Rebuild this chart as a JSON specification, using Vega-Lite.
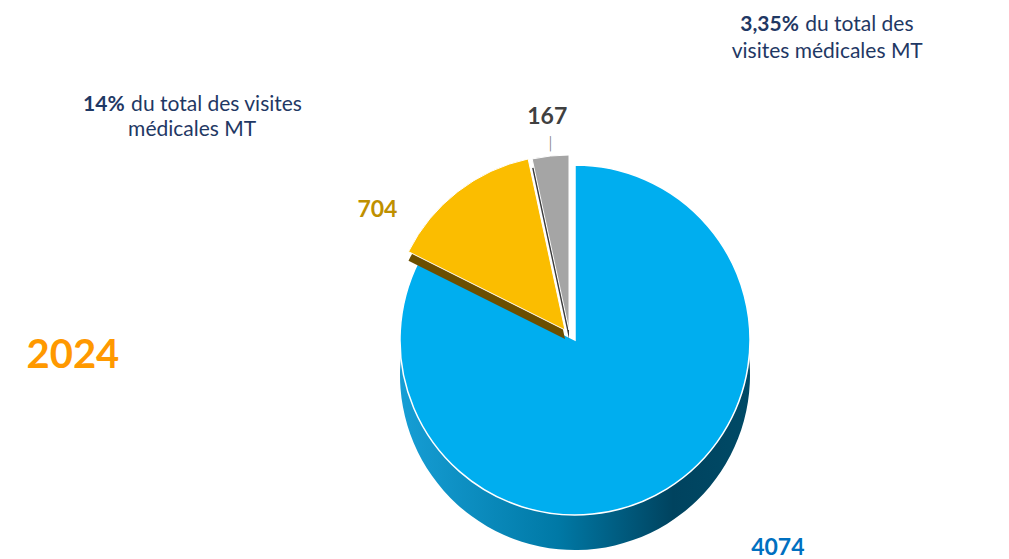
{
 "$schema": "https://vega.github.io/schema/vega-lite/v6.json",
 "width": 750, "height": 438,
 "autosize": {"type": "none"},
 "padding": {"left": 200, "top": 121, "right": 59, "bottom": 0},
 "background": "white",
 "config": {"view": {"stroke": null}, "font": "Lato"},
 "title": {"text": "2024", "orient": "left", "angle": 0, "align": "right", "baseline": "middle", "anchor": "middle", "offset": -129, "dy": 16, "fontSize": 40, "fontWeight": "bold", "color": "#FF9900", "font": "Lato"},
 "data": {"values": [
  {"groupe": "G1", "visites": 4074, "ordre": 1, "note_gras": "", "note_suite": "", "note_ligne2": ""},
  {"groupe": "G2", "visites": 704, "ordre": 2, "note_gras": "14%", "note_suite": "du total des visites", "note_ligne2": "médicales MT"},
  {"groupe": "G3", "visites": 167, "ordre": 3, "note_gras": "3,35%", "note_suite": "du total des", "note_ligne2": "visites médicales MT"}
 ]},
 "encoding": {
  "theta": {"field": "visites", "type": "quantitative", "stack": true},
  "order": {"field": "ordre", "type": "quantitative"}
 },
 "layer": [
  {"mark": {"type": "arc", "radius": 175, "yOffset": 35, "fill": {"gradient": "linear", "x1": 0, "x2": 1, "y1": 0, "y2": 0, "stops": [{"offset": 0, "color": "#169ED5"}, {"offset": 0.45, "color": "#0079A6"}, {"offset": 0.78, "color": "#00435F"}, {"offset": 1, "color": "#004A66"}]}},
   "encoding": {"opacity": {"condition": {"test": "datum.groupe === 'G1'", "value": 1}, "value": 0}}},
  {"mark": {"type": "arc", "radius": 175, "stroke": "white", "strokeWidth": 1.5},
   "encoding": {
    "color": {"field": "groupe", "type": "nominal", "scale": {"domain": ["G1", "G2", "G3"], "range": ["#00AEEF", "#FBBD00", "#A5A5A5"]}, "legend": null},
    "opacity": {"condition": {"test": "datum.groupe === 'G1'", "value": 1}, "value": 0}}},
  {"mark": {"type": "arc", "radius": 175, "xOffset": -10, "yOffset": -1, "fill": "#6B4E00"},
   "encoding": {"opacity": {"condition": {"test": "datum.groupe === 'G2'", "value": 1}, "value": 0}}},
  {"mark": {"type": "arc", "radius": 175, "xOffset": -10, "yOffset": -10, "stroke": "white", "strokeWidth": 1},
   "encoding": {
    "color": {"field": "groupe", "type": "nominal", "legend": null},
    "opacity": {"condition": {"test": "datum.groupe === 'G2'", "value": 1}, "value": 0}}},
  {"mark": {"type": "arc", "radius": 175, "xOffset": -6, "yOffset": -1, "fill": "#3A3A3A"},
   "encoding": {"opacity": {"condition": {"test": "datum.groupe === 'G3'", "value": 1}, "value": 0}}},
  {"mark": {"type": "arc", "radius": 175, "xOffset": -6, "yOffset": -10, "stroke": "white", "strokeWidth": 1},
   "encoding": {
    "color": {"field": "groupe", "type": "nominal", "legend": null},
    "opacity": {"condition": {"test": "datum.groupe === 'G3'", "value": 1}, "value": 0}}},
  {"mark": {"type": "text", "radius": 230, "dx": 82, "dy": 12, "fontSize": 23, "fontWeight": "bold", "color": "#0070C0"},
   "encoding": {"text": {"condition": {"test": "datum.groupe === 'G1'", "field": "visites", "type": "quantitative"}, "value": ""}}},
  {"mark": {"type": "text", "radius": 205, "dx": -72, "dy": 32, "fontSize": 23, "fontWeight": "bold", "color": "#BF9000"},
   "encoding": {"text": {"condition": {"test": "datum.groupe === 'G2'", "field": "visites", "type": "quantitative"}, "value": ""}}},
  {"mark": {"type": "text", "radius": 224, "dx": -4, "fontSize": 23, "fontWeight": "bold", "color": "#404040"},
   "encoding": {"text": {"condition": {"test": "datum.groupe === 'G3'", "field": "visites", "type": "quantitative"}, "value": ""}}},
  {"mark": {"type": "text", "radius": 197, "dx": -4, "fontSize": 14, "color": "#7F7F7F"},
   "encoding": {"text": {"condition": {"test": "datum.groupe === 'G3'", "value": "│"}, "value": ""}}},
  {"mark": {"type": "text", "radius": 416, "dx": -237, "dy": 94, "align": "left", "fontSize": 21, "fontWeight": "bold", "color": "#1F3864"},
   "encoding": {"text": {"condition": {"test": "datum.groupe === 'G2'", "field": "note_gras"}, "value": ""}}},
  {"mark": {"type": "text", "radius": 416, "dx": -189, "dy": 94, "align": "left", "fontSize": 21, "color": "#1F3864"},
   "encoding": {"text": {"condition": {"test": "datum.groupe === 'G2'", "field": "note_suite"}, "value": ""}}},
  {"mark": {"type": "text", "radius": 416, "dx": -128, "dy": 119, "align": "center", "fontSize": 21, "color": "#1F3864"},
   "encoding": {"text": {"condition": {"test": "datum.groupe === 'G2'", "field": "note_ligne2"}, "value": ""}}},
  {"mark": {"type": "text", "radius": 281, "dx": 195, "dy": -36, "align": "left", "fontSize": 21, "fontWeight": "bold", "color": "#1F3864"},
   "encoding": {"text": {"condition": {"test": "datum.groupe === 'G3'", "field": "note_gras"}, "value": ""}}},
  {"mark": {"type": "text", "radius": 281, "dx": 260, "dy": -36, "align": "left", "fontSize": 21, "color": "#1F3864"},
   "encoding": {"text": {"condition": {"test": "datum.groupe === 'G3'", "field": "note_suite"}, "value": ""}}},
  {"mark": {"type": "text", "radius": 281, "dx": 282, "dy": -9, "align": "center", "fontSize": 21, "color": "#1F3864"},
   "encoding": {"text": {"condition": {"test": "datum.groupe === 'G3'", "field": "note_ligne2"}, "value": ""}}}
 ]
}
